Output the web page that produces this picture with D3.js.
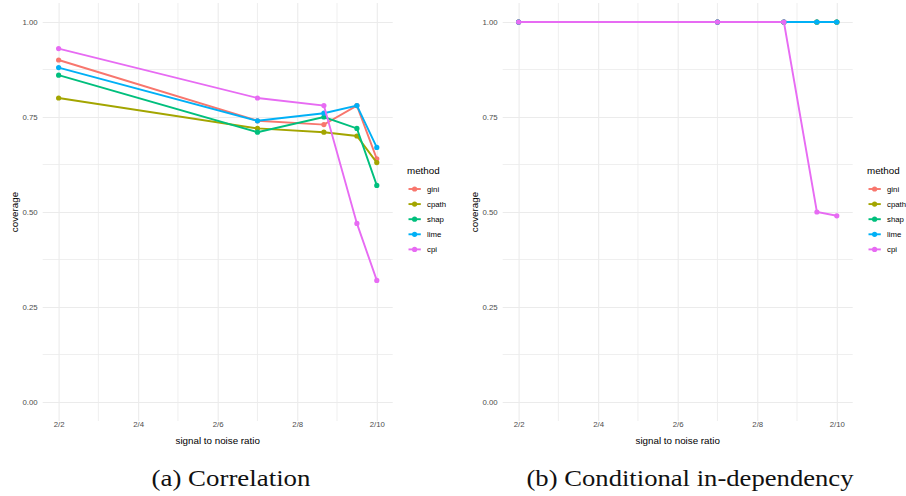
<!DOCTYPE html>
<html>
<head>
<meta charset="utf-8">
<script src="https://cdn.jsdelivr.net/npm/d3@7"></script>
<style>
  html, body { margin: 0; padding: 0; background: #ffffff; }
  svg { display: block; }
</style>
</head>
<body>
<svg id="chart" width="906" height="496"></svg>
<script>
// ---- data ----
const methods = ["gini", "cpath", "shap", "lime", "cpi"];
const colors = ["#F8766D", "#A3A500", "#00BF7D", "#00B0F6", "#E76BF3"];
const noiseLevels = [2, 7, 8.67, 9.5, 10];
const xTicks = [2, 4, 6, 8, 10];
const xTickLabels = ["2/2", "2/4", "2/6", "2/8", "2/10"];
const yTicks = [0, 0.25, 0.5, 0.75, 1.0];
const yTickLabels = ["0.00", "0.25", "0.50", "0.75", "1.00"];

// panel (a) Correlation
const corrGini  = [0.90, 0.74, 0.73, 0.78, 0.64];
const corrCpath = [0.80, 0.72, 0.71, 0.70, 0.63];
const corrShap  = [0.86, 0.71, 0.75, 0.72, 0.57];
const corrLime  = [0.88, 0.74, 0.76, 0.78, 0.67];
const corrCpi   = [0.93, 0.80, 0.78, 0.47, 0.32];

// panel (b) Conditional in-dependency
const condGini  = [1.00, 1.00, 1.00, 1.00, 1.00];
const condCpath = [1.00, 1.00, 1.00, 1.00, 1.00];
const condShap  = [1.00, 1.00, 1.00, 1.00, 1.00];
const condLime  = [1.00, 1.00, 1.00, 1.00, 1.00];
const condCpi   = [1.00, 1.00, 1.00, 0.50, 0.49];

const panels = [
  { offset: 0,   caption: "(a) Correlation", capX: 231, capW: 159,
    series: [corrGini, corrCpath, corrShap, corrLime, corrCpi] },
  { offset: 460, caption: "(b) Conditional in-dependency", capX: 690, capW: 327,
    series: [condGini, condCpath, condShap, condLime, condCpi] }
];

const svg = d3.select("#chart");
const sansFont = "'Liberation Sans', Arial, Helvetica, sans-serif";
const serifFont = "'Liberation Serif', 'Times New Roman', serif";

panels.forEach(p => {
  const g = svg.append("g").attr("transform", `translate(${p.offset},0)`);
  const x = d3.scaleLinear().domain([1.6, 10.4]).range([42.7, 392.7]);
  const y = d3.scaleLinear().domain([-0.05, 1.05]).range([421, 3]);

  // minor gridlines
  const xMinor = [3, 5, 7, 9];
  const yMinor = [0.125, 0.375, 0.625, 0.875];
  g.selectAll(".xminor").data(xMinor).join("line")
    .attr("x1", d => x(d)).attr("x2", d => x(d))
    .attr("y1", y.range()[1]).attr("y2", y.range()[0])
    .attr("stroke", "#EBEBEB").attr("stroke-width", 0.8);
  g.selectAll(".yminor").data(yMinor).join("line")
    .attr("x1", x.range()[0]).attr("x2", x.range()[1])
    .attr("y1", d => y(d)).attr("y2", d => y(d))
    .attr("stroke", "#EBEBEB").attr("stroke-width", 0.8);

  // major gridlines via axes
  const xAxis = d3.axisBottom(x).tickValues(xTicks)
    .tickFormat((d, i) => xTickLabels[i])
    .tickSize(-(y.range()[0] - y.range()[1])).tickPadding(5);
  const gx = g.append("g").attr("transform", `translate(0,${y.range()[0]})`).call(xAxis);
  gx.select(".domain").remove();
  gx.selectAll(".tick line").attr("stroke", "#EBEBEB").attr("stroke-width", 1.1);
  gx.selectAll(".tick text").attr("fill", "#4D4D4D")
    .attr("font-family", sansFont).attr("font-size", 7.8).attr("dy", "0.1em");

  const yAxis = d3.axisLeft(y).tickValues(yTicks)
    .tickFormat((d, i) => yTickLabels[i])
    .tickSize(-(x.range()[1] - x.range()[0])).tickPadding(5);
  const gy = g.append("g").attr("transform", `translate(${x.range()[0]},0)`).call(yAxis);
  gy.select(".domain").remove();
  gy.selectAll(".tick line").attr("stroke", "#EBEBEB").attr("stroke-width", 1.1);
  gy.selectAll(".tick text").attr("fill", "#4D4D4D")
    .attr("font-family", sansFont).attr("font-size", 7.8);

  // axis titles
  g.append("text").attr("x", (x.range()[0] + x.range()[1]) / 2).attr("y", 443.5)
    .attr("text-anchor", "middle").attr("font-family", sansFont).attr("font-size", 9.8)
    .attr("fill", "#000").text("signal to noise ratio");
  g.append("text").attr("transform", `translate(18,${(y.range()[0] + y.range()[1]) / 2}) rotate(-90)`)
    .attr("text-anchor", "middle").attr("font-family", sansFont).attr("font-size", 9.8)
    .attr("fill", "#000").text("coverage");

  // lines and points
  const line = d3.line().x((d, i) => x(noiseLevels[i])).y(d => y(d));
  p.series.forEach((vals, k) => {
    g.append("path").datum(vals).attr("d", line)
      .attr("fill", "none").attr("stroke", colors[k]).attr("stroke-width", 1.9);
    g.selectAll(null).data(vals).join("circle")
      .attr("cx", (d, i) => x(noiseLevels[i])).attr("cy", d => y(d))
      .attr("r", 2.6).attr("fill", colors[k]);
  });

  // legend
  const lg = g.append("g");
  lg.append("text").attr("x", 407).attr("y", 174).attr("font-family", sansFont)
    .attr("font-size", 9.8).attr("fill", "#000").text("method");
  methods.forEach((m, k) => {
    const cy = 189 + k * 15.1;
    lg.append("line").attr("x1", 408.5).attr("x2", 420.8).attr("y1", cy).attr("y2", cy)
      .attr("stroke", colors[k]).attr("stroke-width", 1.9);
    lg.append("circle").attr("cx", 414.6).attr("cy", cy).attr("r", 2.6).attr("fill", colors[k]);
    lg.append("text").attr("x", 427).attr("y", cy).attr("dy", "0.35em")
      .attr("font-family", sansFont).attr("font-size", 7.8).attr("fill", "#000").text(m);
  });

  // caption
  svg.append("text").attr("x", p.capX).attr("y", 485.5).attr("text-anchor", "middle")
    .attr("font-family", serifFont).attr("font-size", 22.5).attr("fill", "#111")
    .attr("textLength", p.capW).attr("lengthAdjust", "spacingAndGlyphs")
    .text(p.caption);
});
</script>
</body>
</html>
